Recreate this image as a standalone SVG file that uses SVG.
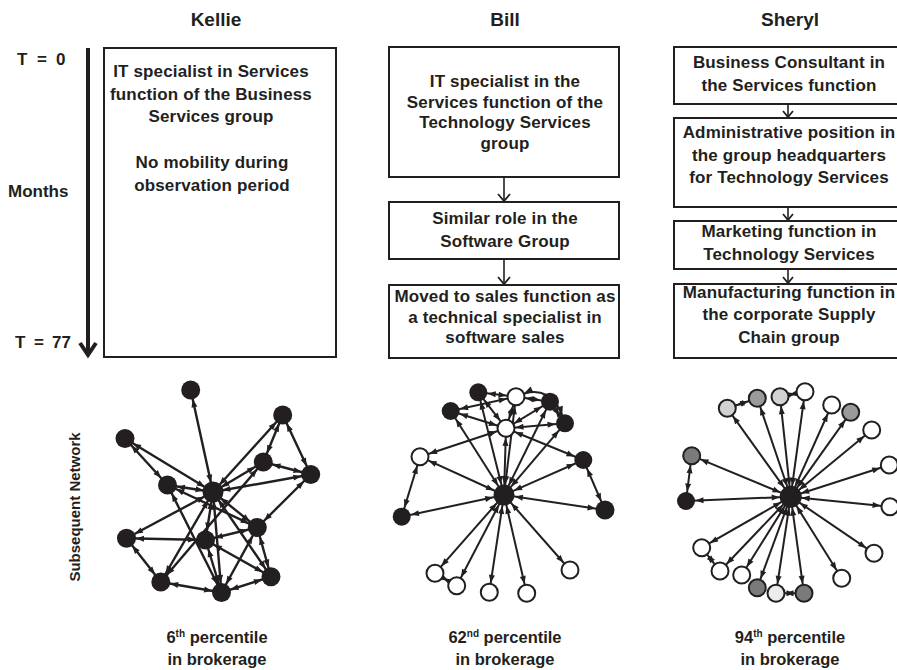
<svg xmlns="http://www.w3.org/2000/svg" width="897" height="670" viewBox="0 0 897 670">
<defs>
<style>
.ti{font-family:"Liberation Sans",Arial,sans-serif;font-weight:bold;font-size:19px;fill:#231f20;text-anchor:middle}
.t{font-family:"Liberation Sans",Arial,sans-serif;font-weight:bold;font-size:17px;fill:#231f20;text-anchor:middle;letter-spacing:0.15px}
.l{font-family:"Liberation Sans",Arial,sans-serif;font-weight:bold;font-size:17px;fill:#231f20}
.b{font-family:"Liberation Sans",Arial,sans-serif;font-weight:bold;font-size:16.5px;fill:#231f20;text-anchor:middle}
.sup{font-size:10px}
.sn{font-family:"Liberation Sans",Arial,sans-serif;font-weight:bold;font-size:15px;fill:#231f20;text-anchor:middle}
.box{fill:#fff;stroke:#231f20;stroke-width:2}
.ln{stroke:#231f20;stroke-width:1.6;fill:none}
.chev{stroke:#231f20;stroke-width:1.8;fill:none}
.e{stroke:#231f20;stroke-width:2;fill:none}
.k{stroke-width:2.4}
.bi{marker-start:url(#ah);marker-end:url(#ah)}
.hub{marker-start:url(#ahh);marker-end:url(#ah)}
.nb{fill:#231f20}
.nw{fill:#fff;stroke:#231f20;stroke-width:2}
.g1{fill:#d2d2d2;stroke:#231f20;stroke-width:2}
.g2{fill:#9a9a9a;stroke:#231f20;stroke-width:2}
.g3{fill:#7a7a7a;stroke:#231f20;stroke-width:2}
.g4{fill:#ececec;stroke:#231f20;stroke-width:2}
</style>
<marker id="ah" viewBox="0 0 8 6" markerWidth="8" markerHeight="6" refX="17.5" refY="3" orient="auto-start-reverse" markerUnits="userSpaceOnUse" overflow="visible"><path d="M0,0 L8,3 L0,6 z" fill="#231f20"/></marker>
<marker id="ahh" viewBox="0 0 8 6" markerWidth="8" markerHeight="6" refX="19" refY="3" orient="auto-start-reverse" markerUnits="userSpaceOnUse" overflow="visible"><path d="M0,0 L8,3 L0,6 z" fill="#231f20"/></marker>
</defs>
<rect width="897" height="670" fill="#fff"/>

<!-- Titles -->
<text class="ti" x="216" y="26">Kellie</text>
<text class="ti" x="505" y="26">Bill</text>
<text class="ti" x="790" y="26">Sheryl</text>

<!-- Time axis -->
<g id="time-axis">
<text class="l" y="65"><tspan x="17">T</tspan><tspan x="37">=</tspan><tspan x="56">0</tspan></text>
<text class="l" x="8" y="197">Months</text>
<text class="l" y="348"><tspan x="15">T</tspan><tspan x="34">=</tspan><tspan x="52">77</tspan></text>
<line x1="88" y1="48" x2="88" y2="354" stroke="#231f20" stroke-width="4"/>
<polyline points="80,343 88,355 96,343" fill="none" stroke="#231f20" stroke-width="4" stroke-linejoin="miter"/>
</g>

<!-- Kellie box -->
<g id="kellie-box">
<rect class="box" x="104" y="48" width="232" height="309"/>
<text class="t" x="211" y="77">IT specialist in Services</text>
<text class="t" x="211" y="99.5">function of the Business</text>
<text class="t" x="211" y="122">Services group</text>
<text class="t" x="212" y="168">No mobility during</text>
<text class="t" x="212" y="190.5">observation period</text>
</g>

<!-- Bill boxes -->
<g id="bill-box1">
<rect class="box" x="389" y="47" width="230" height="130"/>
<text class="t" x="505" y="87">IT specialist in the</text>
<text class="t" x="505" y="107.5">Services function of the</text>
<text class="t" x="505" y="128">Technology Services</text>
<text class="t" x="505" y="148.5">group</text>
</g>
<g id="bill-box2">
<rect class="box" x="389" y="202" width="230" height="57"/>
<text class="t" x="505" y="224">Similar role in the</text>
<text class="t" x="505" y="246.5">Software Group</text>
</g>
<g id="bill-box3">
<rect class="box" x="389" y="285" width="230" height="73"/>
<text class="t" x="505" y="301.5">Moved to sales function as</text>
<text class="t" x="505" y="322.5">a technical specialist in</text>
<text class="t" x="505" y="343">software sales</text>
</g>

<!-- Sheryl boxes -->
<g id="sheryl-box1">
<rect class="box" x="674" y="47" width="240" height="57"/>
<text class="t" x="789" y="67.5">Business Consultant in</text>
<text class="t" x="789" y="90.5">the Services function</text>
</g>
<g id="sheryl-box2">
<rect class="box" x="674" y="118" width="240" height="89"/>
<text class="t" x="789" y="138">Administrative position in</text>
<text class="t" x="789" y="160.5">the group headquarters</text>
<text class="t" x="789" y="183">for Technology Services</text>
</g>
<g id="sheryl-box3">
<rect class="box" x="674" y="221" width="240" height="48"/>
<text class="t" x="789" y="237">Marketing function in</text>
<text class="t" x="789" y="260">Technology Services</text>
</g>
<g id="sheryl-box4">
<rect class="box" x="674" y="284" width="240" height="74"/>
<text class="t" x="789" y="298">Manufacturing function in</text>
<text class="t" x="789" y="320">the corporate Supply</text>
<text class="t" x="789" y="343">Chain group</text>
</g>

<!-- Box connectors -->
<g id="box-connectors">
<line class="ln" x1="504" y1="177" x2="504" y2="201"/>
<polyline class="chev" points="498,194 504,201 510,194"/>
<line class="ln" x1="504" y1="259" x2="504" y2="284"/>
<polyline class="chev" points="498,277 504,284 510,277"/>
<line class="ln" x1="788" y1="104" x2="788" y2="117"/>
<polyline class="chev" points="783,111 788,117 793,111"/>
<line class="ln" x1="788" y1="207" x2="788" y2="220"/>
<polyline class="chev" points="783,214 788,220 793,214"/>
<line class="ln" x1="788" y1="269" x2="788" y2="283"/>
<polyline class="chev" points="783,277 788,283 793,277"/>
</g>

<text class="sn" transform="translate(80,507) rotate(-90)">Subsequent Network</text>

<!-- Network connectors -->
<g id="network-connectors">
<!-- Kellie -->
<line class="e k bi" x1="190.7" y1="390" x2="213" y2="492"/>
<line class="e k bi" x1="125" y1="438.5" x2="167.5" y2="485"/>
<line class="e k bi" x1="125" y1="438.5" x2="213" y2="492"/>
<line class="e k bi" x1="167.5" y1="485" x2="213" y2="492"/>
<line class="e k bi" x1="213" y1="492" x2="282.7" y2="415"/>
<line class="e k bi" x1="213" y1="492" x2="263.3" y2="462"/>
<line class="e k bi" x1="213" y1="492" x2="310.7" y2="474.5"/>
<line class="e k bi" x1="282.7" y1="415" x2="263.3" y2="462"/>
<line class="e k bi" x1="282.7" y1="415" x2="310.7" y2="474.5"/>
<line class="e k bi" x1="263.3" y1="462" x2="310.7" y2="474.5"/>
<line class="e k bi" x1="310.7" y1="474.5" x2="257.3" y2="527.5"/>
<line class="e k bi" x1="213" y1="492" x2="257.3" y2="527.5"/>
<line class="e k bi" x1="213" y1="492" x2="205.5" y2="540"/>
<line class="e k bi" x1="213" y1="492" x2="221.5" y2="592.5"/>
<line class="e k bi" x1="213" y1="492" x2="271" y2="576.7"/>
<line class="e k bi" x1="213" y1="492" x2="126.5" y2="538.3"/>
<line class="e k bi" x1="213" y1="492" x2="160.8" y2="582"/>
<line class="e k bi" x1="263.3" y1="462" x2="160.8" y2="582"/>
<line class="e k bi" x1="167.5" y1="485" x2="257.3" y2="527.5"/>
<line class="e k bi" x1="167.5" y1="485" x2="221.5" y2="592.5"/>
<line class="e k bi" x1="205.5" y1="540" x2="126.5" y2="538.3"/>
<line class="e k bi" x1="126.5" y1="538.3" x2="160.8" y2="582"/>
<line class="e k bi" x1="205.5" y1="540" x2="257.3" y2="527.5"/>
<line class="e k bi" x1="205.5" y1="540" x2="271" y2="576.7"/>
<line class="e k bi" x1="205.5" y1="540" x2="221.5" y2="592.5"/>
<line class="e k bi" x1="257.3" y1="527.5" x2="271" y2="576.7"/>
<line class="e k bi" x1="257.3" y1="527.5" x2="221.5" y2="592.5"/>
<line class="e k bi" x1="160.8" y1="582" x2="221.5" y2="592.5"/>
<line class="e k bi" x1="271" y1="576.7" x2="221.5" y2="592.5"/>
<!-- Bill -->
<line class="e hub" x1="504" y1="495" x2="478.3" y2="392.3"/>
<line class="e hub" x1="504" y1="495" x2="516" y2="396.7"/>
<line class="e hub" x1="504" y1="495" x2="550" y2="401.7"/>
<line class="e hub" x1="504" y1="495" x2="450.7" y2="411"/>
<line class="e hub" x1="504" y1="495" x2="565" y2="423.3"/>
<line class="e hub" x1="504" y1="495" x2="506" y2="428.3"/>
<line class="e hub" x1="504" y1="495" x2="420" y2="456.7"/>
<line class="e hub" x1="504" y1="495" x2="583.3" y2="460"/>
<line class="e hub" x1="504" y1="495" x2="401.7" y2="516.7"/>
<line class="e hub" x1="504" y1="495" x2="605" y2="510"/>
<line class="e hub" x1="504" y1="495" x2="435" y2="573.3"/>
<line class="e hub" x1="504" y1="495" x2="456.7" y2="585.7"/>
<line class="e hub" x1="504" y1="495" x2="489.3" y2="592.3"/>
<line class="e hub" x1="504" y1="495" x2="526.7" y2="593.3"/>
<line class="e hub" x1="504" y1="495" x2="570" y2="570"/>
<line class="e bi" x1="478.3" y1="392.3" x2="516" y2="396.7"/>
<line class="e bi" x1="516" y1="396.7" x2="550" y2="401.7"/>
<line class="e bi" x1="550" y1="401.7" x2="565" y2="423.3"/>
<path class="e bi" d="M516,396.7 Q552,380 565,423.3"/>
<line class="e bi" x1="450.7" y1="411" x2="516" y2="396.7"/>
<line class="e bi" x1="450.7" y1="411" x2="506" y2="428.3"/>
<line class="e bi" x1="478.3" y1="392.3" x2="506" y2="428.3"/>
<line class="e bi" x1="516" y1="396.7" x2="506" y2="428.3"/>
<line class="e bi" x1="550" y1="401.7" x2="506" y2="428.3"/>
<line class="e bi" x1="565" y1="423.3" x2="506" y2="428.3"/>
<line class="e bi" x1="506" y1="428.3" x2="420" y2="456.7"/>
<line class="e bi" x1="506" y1="428.3" x2="583.3" y2="460"/>
<line class="e bi" x1="420" y1="456.7" x2="401.7" y2="516.7"/>
<line class="e bi" x1="583.3" y1="460" x2="605" y2="510"/>
<line class="e bi" x1="435" y1="573.3" x2="456.7" y2="585.7"/>
<!-- Sheryl -->
<line class="e hub" x1="790.7" y1="496.7" x2="727.3" y2="408.3"/>
<line class="e hub" x1="790.7" y1="496.7" x2="757.3" y2="398.3"/>
<line class="e hub" x1="790.7" y1="496.7" x2="780" y2="396.7"/>
<line class="e hub" x1="790.7" y1="496.7" x2="805" y2="391.7"/>
<line class="e hub" x1="790.7" y1="496.7" x2="831.7" y2="405"/>
<line class="e hub" x1="790.7" y1="496.7" x2="850.7" y2="412.3"/>
<line class="e hub" x1="790.7" y1="496.7" x2="871.7" y2="430"/>
<line class="e hub" x1="790.7" y1="496.7" x2="691.7" y2="455.7"/>
<line class="e hub" x1="790.7" y1="496.7" x2="889.3" y2="465"/>
<line class="e hub" x1="790.7" y1="496.7" x2="686" y2="501"/>
<line class="e hub" x1="790.7" y1="496.7" x2="890" y2="506.7"/>
<line class="e hub" x1="790.7" y1="496.7" x2="701.7" y2="547.7"/>
<line class="e hub" x1="790.7" y1="496.7" x2="874" y2="553.3"/>
<line class="e hub" x1="790.7" y1="496.7" x2="720" y2="571"/>
<line class="e hub" x1="790.7" y1="496.7" x2="741.7" y2="575"/>
<line class="e hub" x1="790.7" y1="496.7" x2="841.7" y2="578.3"/>
<line class="e hub" x1="790.7" y1="496.7" x2="757.3" y2="587.7"/>
<line class="e hub" x1="790.7" y1="496.7" x2="776" y2="593.3"/>
<line class="e hub" x1="790.7" y1="496.7" x2="804" y2="593.3"/>
<line class="e bi" x1="727.3" y1="408.3" x2="757.3" y2="398.3"/>
<line class="e bi" x1="780" y1="396.7" x2="805" y2="391.7"/>
<line class="e bi" x1="691.7" y1="455.7" x2="686" y2="501"/>
<line class="e bi" x1="701.7" y1="547.7" x2="720" y2="571"/>
<line class="e bi" x1="776" y1="593.3" x2="804" y2="593.3"/>
</g>

<!-- Kellie nodes -->
<g id="k-a"><circle class="nb" cx="190.7" cy="390" r="9.5"/></g>
<g id="k-b"><circle class="nb" cx="282.7" cy="415" r="9.5"/></g>
<g id="k-c"><circle class="nb" cx="125" cy="438.5" r="9.5"/></g>
<g id="k-d"><circle class="nb" cx="263.3" cy="462" r="9.5"/></g>
<g id="k-e"><circle class="nb" cx="310.7" cy="474.5" r="9.5"/></g>
<g id="k-f"><circle class="nb" cx="167.5" cy="485" r="9.5"/></g>
<g id="k-hub"><circle class="nb" cx="213" cy="492" r="10.5"/></g>
<g id="k-h"><circle class="nb" cx="257.3" cy="527.5" r="9.5"/></g>
<g id="k-i"><circle class="nb" cx="126.5" cy="538.3" r="9.5"/></g>
<g id="k-j"><circle class="nb" cx="205.5" cy="540" r="9.5"/></g>
<g id="k-k"><circle class="nb" cx="160.8" cy="582" r="9.5"/></g>
<g id="k-l"><circle class="nb" cx="271" cy="576.7" r="9.5"/></g>
<g id="k-m"><circle class="nb" cx="221.5" cy="592.5" r="9.5"/></g>

<!-- Bill nodes -->
<g id="b-1"><circle class="nb" cx="478.3" cy="392.3" r="9"/></g>
<g id="b-2"><circle class="nw" cx="516" cy="396.7" r="8.5"/></g>
<g id="b-3"><circle class="nb" cx="550" cy="401.7" r="9"/></g>
<g id="b-4"><circle class="nb" cx="450.7" cy="411" r="9"/></g>
<g id="b-5"><circle class="nb" cx="565" cy="423.3" r="9"/></g>
<g id="b-6"><circle class="nw" cx="506" cy="428.3" r="8.5"/></g>
<g id="b-7"><circle class="nw" cx="420" cy="456.7" r="8.5"/></g>
<g id="b-8"><circle class="nb" cx="583.3" cy="460" r="9"/></g>
<g id="b-hub"><circle class="nb" cx="504" cy="495" r="10.5"/></g>
<g id="b-9"><circle class="nb" cx="401.7" cy="516.7" r="9"/></g>
<g id="b-10"><circle class="nb" cx="605" cy="510" r="9.5"/></g>
<g id="b-11"><circle class="nw" cx="435" cy="573.3" r="8.5"/></g>
<g id="b-12"><circle class="nw" cx="456.7" cy="585.7" r="8.5"/></g>
<g id="b-13"><circle class="nw" cx="489.3" cy="592.3" r="8.5"/></g>
<g id="b-14"><circle class="nw" cx="526.7" cy="593.3" r="8.5"/></g>
<g id="b-15"><circle class="nw" cx="570" cy="570" r="8.5"/></g>

<!-- Sheryl nodes -->
<g id="s-1"><circle class="g1" cx="727.3" cy="408.3" r="8.5"/></g>
<g id="s-2"><circle class="g2" cx="757.3" cy="398.3" r="8.5"/></g>
<g id="s-3"><circle class="g1" cx="780" cy="396.7" r="8.5"/></g>
<g id="s-4"><circle class="nw" cx="805" cy="391.7" r="8.5"/></g>
<g id="s-5"><circle class="nw" cx="831.7" cy="405" r="8.5"/></g>
<g id="s-6"><circle class="g2" cx="850.7" cy="412.3" r="8.5"/></g>
<g id="s-7"><circle class="nw" cx="871.7" cy="430" r="8.5"/></g>
<g id="s-8"><circle class="g3" cx="691.7" cy="455.7" r="8.5"/></g>
<g id="s-9"><circle class="nw" cx="889.3" cy="465" r="8.5"/></g>
<g id="s-10"><circle class="nb" cx="686" cy="501" r="9"/></g>
<g id="s-hub"><circle class="nb" cx="790.7" cy="496.7" r="11"/></g>
<g id="s-11"><circle class="nw" cx="890" cy="506.7" r="8.5"/></g>
<g id="s-12"><circle class="nw" cx="701.7" cy="547.7" r="8.5"/></g>
<g id="s-13"><circle class="nw" cx="874" cy="553.3" r="8.5"/></g>
<g id="s-14"><circle class="nw" cx="720" cy="571" r="8.5"/></g>
<g id="s-15"><circle class="nw" cx="741.7" cy="575" r="8.5"/></g>
<g id="s-16"><circle class="nw" cx="841.7" cy="578.3" r="8.5"/></g>
<g id="s-17"><circle class="g3" cx="757.3" cy="587.7" r="8.5"/></g>
<g id="s-18"><circle class="g4" cx="776" cy="593.3" r="8.5"/></g>
<g id="s-19"><circle class="g3" cx="804" cy="593.3" r="8.5"/></g>

<!-- Bottom labels -->
<text class="b" x="217" y="643">6<tspan class="sup" dy="-6">th</tspan><tspan dy="6"> percentile</tspan></text>
<text class="b" x="217" y="665">in brokerage</text>
<text class="b" x="505" y="643">62<tspan class="sup" dy="-6">nd</tspan><tspan dy="6"> percentile</tspan></text>
<text class="b" x="505" y="665">in brokerage</text>
<text class="b" x="790" y="643">94<tspan class="sup" dy="-6">th</tspan><tspan dy="6"> percentile</tspan></text>
<text class="b" x="790" y="665">in brokerage</text>
</svg>
